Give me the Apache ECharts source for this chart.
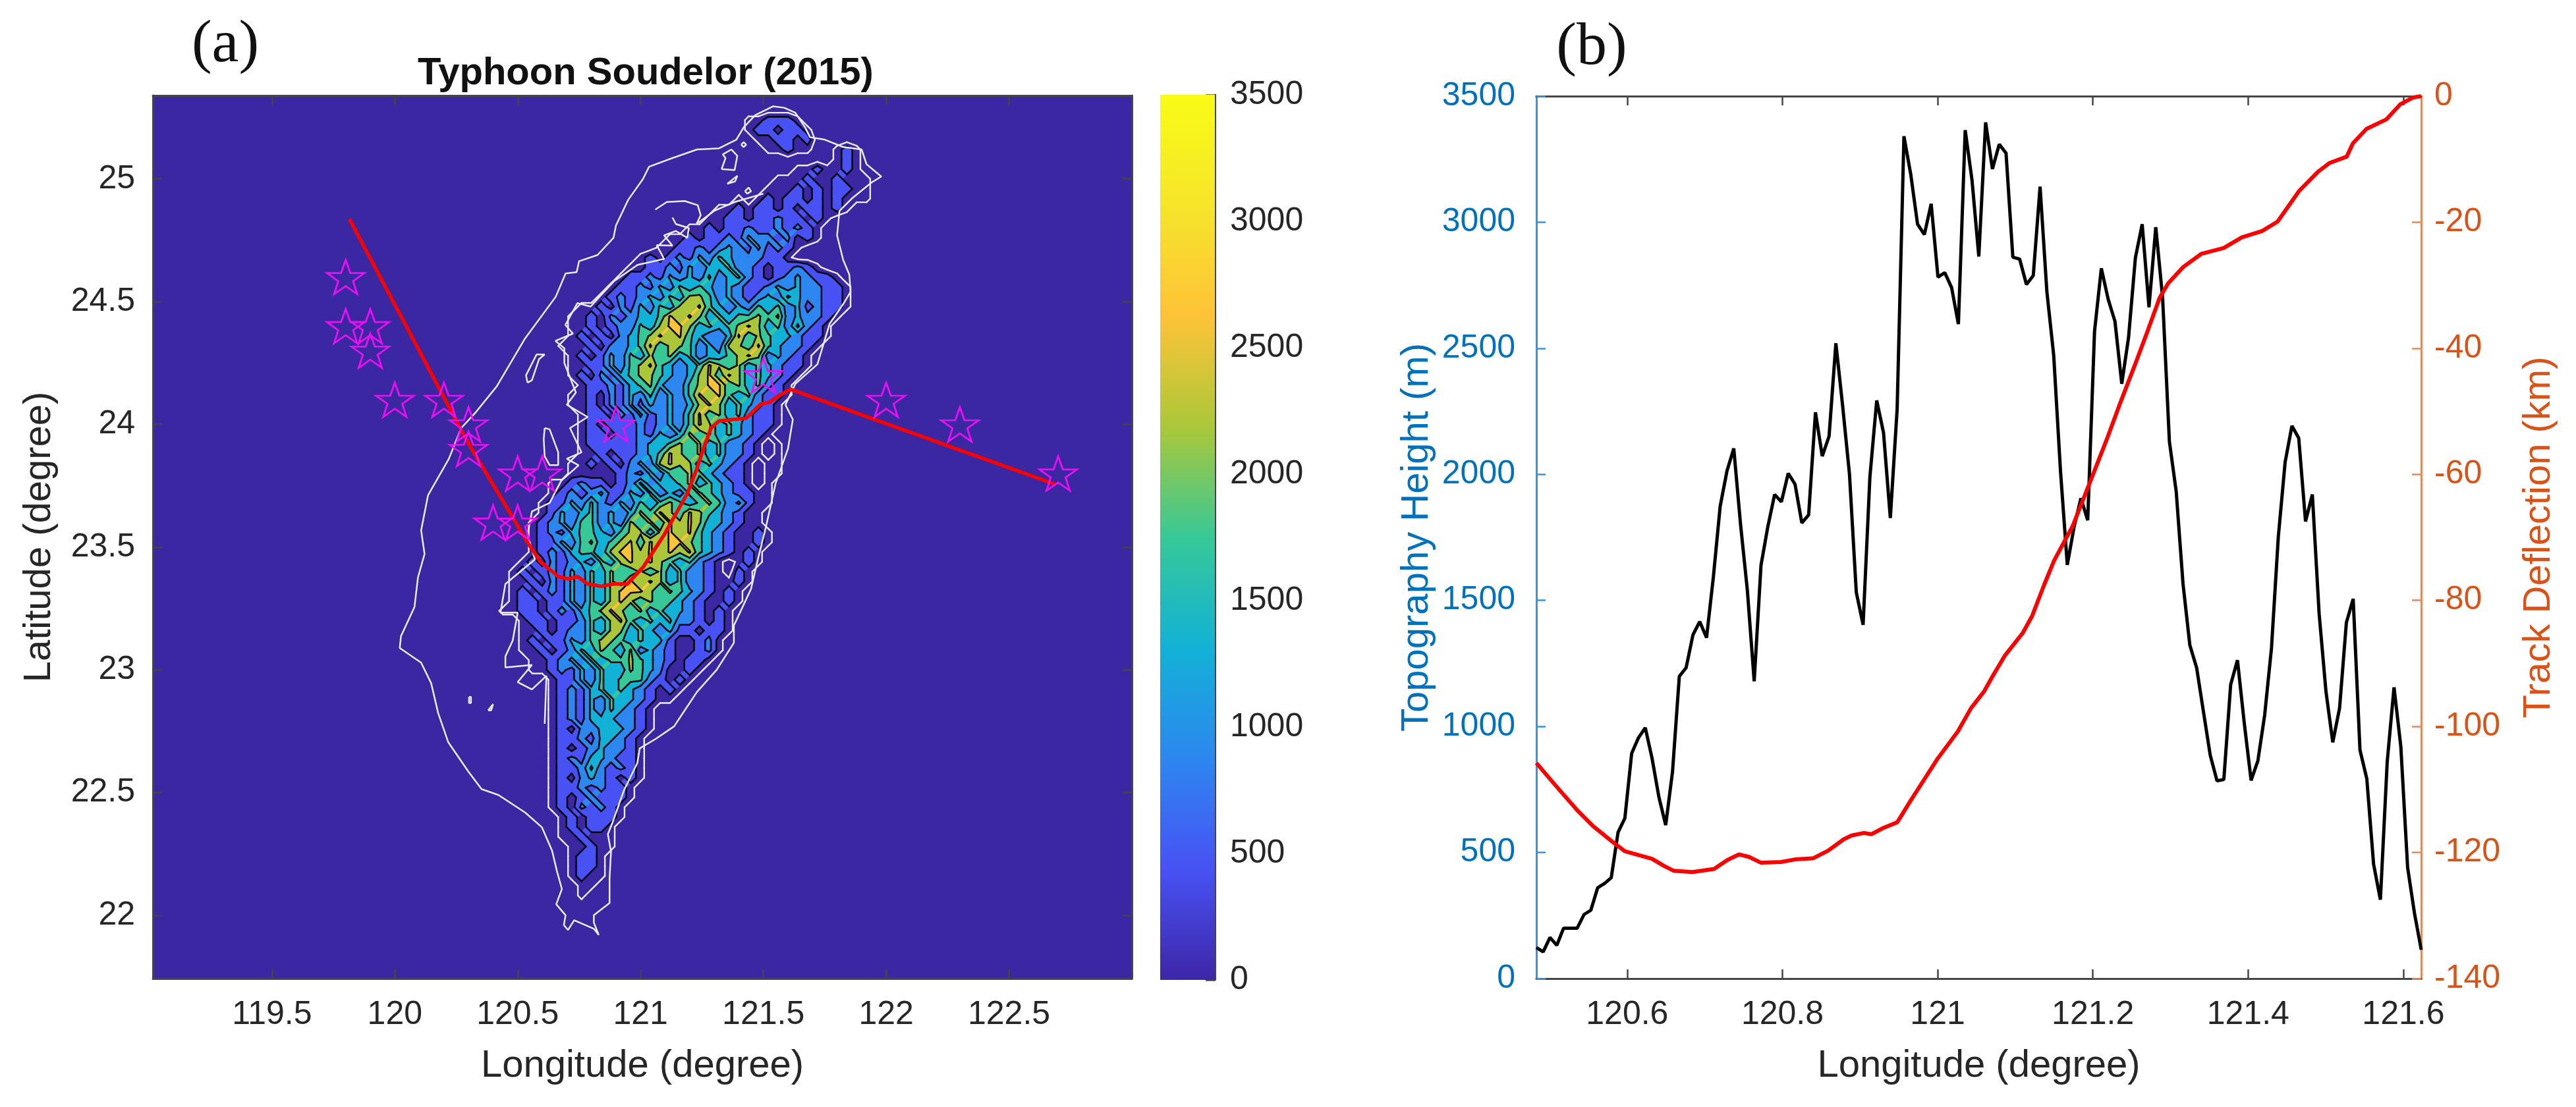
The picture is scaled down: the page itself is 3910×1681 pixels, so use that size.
<!DOCTYPE html>
<html>
<head>
<meta charset="utf-8">
<style>html,body{margin:0;padding:0;background:#fff}#c{width:3910px;height:1681px}</style>
<script src="https://cdn.jsdelivr.net/npm/echarts@6/dist/echarts.min.js"></script>
</head>
<body>
<div id="c"></div>
<script>
// ---------- panel (a) data ----------
const mapLonTicks = [119.5, 120, 120.5, 121, 121.5, 122, 122.5];
const mapLatTicks = [22, 22.5, 23, 23.5, 24, 24.5, 25];
const bandValues = {'.': -100, '0': 220, '1': 700, '2': 1000, '3': 1420, '4': 1850, '5': 2270, '6': 2690, '7': 3281};
const contourLevels = [437.5, 875, 1312.5, 1750, 2187.5, 2625, 3062.5];
const contourColors = ['#4852f4', '#2d87f0', '#12b1d6', '#37c897', '#abc739', '#fec338', '#f5e52a'];
const terrainLon0 = 120.40, terrainLat0 = 25.28, terrainStep = 0.04, terrainCols = 41;
// one string per latitude row (25.28 down to 21.92): "first column|height band of each cell"
const terrainRows = [
"",
"26|001110",
"26|0110110",
"27|001101",
"28|00100..010",
"35|010",
"31|0010010",
"29|0001001000",
"28|00010101100",
"25|0.010110101000",
"23|00101101011010",
"22|0011011211010",
"20|00101121121210",
"18|0010112132212010",
"17|001121232131210",
"15|0101213243222110",
"14|00112132334221011210",
"13|01121323242342101232110",
"12|0112132434323211232322110",
"11|01212324355423212324322110",
"9|0010213243556432324342312110",
"8|0010212334656534344545232210",
"8|001012243566534345653424210",
"8|010102345656432236454332110",
"7|000102234645542325546432210",
"8|0101324354534233456523210",
"8|0011324564323465453432110",
"8|010213455432356465343210",
"9|0112134532245664534210",
"8|00102132423246564342110",
"8|0010213132323565343210",
"9|011021312324645342110",
"9|010111212324653432110",
"9|01101121323545343210",
"9|0111112334545342210.0",
"9|0010112346545342210.0",
"8|0010102325655343210.00",
"8|0000012132445432110.00",
"6|001211012423345343210.0",
"6|01212311324232454321100",
"5|011324213243454345423100",
"5|01323423235465465432100",
"4|012324423254546565332100",
"4|0121344324553565643210010",
"4|0113245345646566543210010",
"4|012134435665656564321010",
"3|010212324356565434210.010",
"2|0101213243544545342210.10",
"2|0010213243546565342210010",
"2|010121324356665454321010",
"2|011011324356545443210010",
"1|001101213456545343321010",
"3|0110112435643434221010",
"3|0010122435534323110110",
"3|010113245543433100120",
"3|001012435435232100120",
"4|0012324344543210110",
"4|001213243354320010",
"6|011324344421010",
"6|01213434321010",
"6|0121324332100",
"6|01213243210",
"6|01213332210",
"6|01022333210",
"6|0112133210",
"6|0101232210",
"6|0121332110",
"6|0112421210",
"6|0102321010",
"6|011212110",
"6|010121110",
"6|01021210",
"7|0101110",
"7|010110",
"7|001000",
"8|00100",
"8|0110",
"8|0110",
"8|0100",
"9|00",
"9|0",
"", "", "", ""
];
const coastLine = [
[121.585,25.29],[121.54,25.296],[121.467,25.26],[121.42,25.21],[121.39,25.16],[121.32,25.125],[121.23,25.12],
[121.13,25.085],[121.035,25.05],[121.01,25.0],[120.95,24.915],[120.90,24.81],[120.89,24.76],[120.825,24.69],
[120.75,24.665],[120.74,24.62],[120.695,24.615],[120.655,24.52],[120.53,24.35],[120.415,24.155],[120.33,24.05],
[120.27,23.985],[120.22,23.86],[120.135,23.711],[120.107,23.568],[120.121,23.472],[120.094,23.376],[120.08,23.256],
[120.025,23.137],[120.02,23.089],[120.107,23.029],[120.148,22.945],[120.176,22.825],[120.217,22.706],[120.299,22.586],
[120.353,22.514],[120.422,22.49],[120.531,22.418],[120.599,22.358],[120.64,22.263],[120.66,22.179],[120.68,22.107],
[120.657,22.045],[120.695,22.0],[120.688,21.96],[120.705,21.94],[120.73,21.98],[120.81,21.945],[120.83,21.92],
[120.81,21.97],[120.81,22.0],[120.874,22.05],[120.874,22.15],[120.88,22.26],[120.867,22.33],[120.885,22.375],
[120.933,22.51],[120.987,22.62],[120.997,22.68],[121.064,22.72],[121.137,22.77],[121.17,22.82],[121.23,22.91],
[121.31,23.0],[121.38,23.11],[121.38,23.18],[121.45,23.33],[121.48,23.46],[121.51,23.58],[121.55,23.76],[121.6,23.9],
[121.62,24.02],[121.59,24.08],[121.63,24.165],[121.72,24.245],[121.77,24.41],[121.825,24.49],[121.855,24.54],
[121.85,24.61],[121.825,24.67],[121.80,24.77],[121.81,24.87],[121.86,24.92],[121.94,24.985],[121.98,25.01],
[121.92,25.06],[121.90,25.12],[121.825,25.13],[121.75,25.16],[121.69,25.17],[121.67,25.21],[121.63,25.27],[121.585,25.29]
];
const taoyuanLine = [[121.06,24.875],[121.107,24.906],[121.18,24.91],[121.233,24.893],[121.245,24.852],[121.228,24.816],[121.3,24.87],[121.383,24.906],[121.5,24.94]];
const westFootLine = [
[121.13,24.843],[121.144,24.816],[121.197,24.8],[121.19,24.76],[121.144,24.788],[121.096,24.77],[121.13,24.728],[121.066,24.73],
[121.096,24.674],[120.988,24.65],[120.893,24.584],[120.833,24.52],[120.797,24.48],[120.743,24.494],[120.694,24.405],[120.725,24.37],
[120.654,24.34],[120.69,24.31],[120.69,24.25],[120.737,24.13],[120.70,24.08],[120.785,24.03],[120.713,23.985],[120.76,23.886],
[120.70,23.86],[120.748,23.833],[120.677,23.77],[120.63,23.68],[120.558,23.645],[120.54,23.55],[120.57,23.45],[120.45,23.35],
[120.43,23.233],[120.5,23.233],[120.48,23.12],[120.45,23.055],[120.45,23.01],[120.558,23.02],[120.5,22.95],[120.558,22.92],
[120.617,22.975],[120.61,22.78]
];
const lakeNorth = [[120.54,24.17],[120.534,24.2],[120.577,24.285],[120.61,24.285],[120.587,24.266],[120.558,24.18],[120.54,24.17]];
const lakeMiddle = [[120.61,23.985],[120.63,23.98],[120.665,23.886],[120.665,23.834],[120.63,23.834],[120.61,23.87],[120.606,23.94],[120.61,23.985]];
const taipeiBlob = [[121.33,25.04],[121.346,25.085],[121.335,25.10],[121.37,25.12],[121.394,25.094],[121.383,25.036],[121.33,25.04]];
const isletA = [[121.353,24.98],[121.394,25.013],[121.385,24.99],[121.353,24.98]];
const isletB = [[121.41,25.14],[121.42,25.15],[121.43,25.14],[121.42,25.13],[121.41,25.14]];
const isletC = [[121.425,24.95],[121.44,24.965],[121.45,24.95],[121.435,24.94],[121.425,24.95]];
const isletD = [[120.302,22.89],[120.31,22.89],[120.31,22.865],[120.302,22.865],[120.302,22.89]];
const isletE = [[120.38,22.835],[120.40,22.86],[120.392,22.835],[120.38,22.835]];
const trackLine = [
[119.815,24.837],[120.295,23.93],[120.546,23.51],[120.593,23.44],[120.665,23.38],[120.708,23.37],[120.743,23.38],[120.785,23.35],
[120.84,23.34],[120.888,23.35],[120.947,23.35],[121.012,23.42],[121.096,23.55],[121.155,23.655],[121.19,23.717],[121.228,23.816],
[121.263,23.92],[121.287,23.985],[121.32,24.014],[121.43,24.025],[121.49,24.083],[121.525,24.09],[121.567,24.119],[121.61,24.143],[122.69,23.755]
];
const starPoints = [
[119.8,24.6],[119.8,24.4],[119.9,24.4],[119.9,24.3],[120,24.1],[120.2,24.1],[120.3,24],[120.3,23.9],[120.5,23.8],
[120.6,23.8],[120.4,23.6],[120.5,23.6],[120.9,24],[121.5,24.2],[122,24.1],[122.3,24],[122.7,23.8]
];
const parulaStops = [[0,'#3e26a8'],[0.125,'#4852f4'],[0.25,'#2d87f0'],[0.375,'#12b1d6'],[0.5,'#37c897'],[0.625,'#abc739'],[0.75,'#fec338'],[0.875,'#f5e52a'],[1,'#f9fb15']];

// ---------- panel (b) data ----------
const profileLonTicks = [120.6, 120.8, 121, 121.2, 121.4, 121.6];
const topoLonStart = 120.483, topoLonStep = 0.00877;
const topoHeight = [
123,106,163,132,200,200,200,254,271,360,377,400,580,636,893,955,995,873,720,609,
820,1199,1233,1363,1416,1352,1592,1873,2013,2103,1800,1539,1179,1639,1792,1920,1891,2004,1961,1807,
1839,2246,2072,2151,2520,2270,2000,1532,1403,1990,2293,2165,1827,2258,3341,3190,2992,2951,3073,2782,
2800,2741,2596,3365,3167,2864,3396,3211,3309,3274,2861,2854,2753,2788,3141,2724,2473,2013,1641,1792,
1905,1818,2567,2817,2695,2607,2359,2543,2858,2992,2663,2980,2701,2130,1932,1566,1323,1233,1059,886,
784,790,1166,1263,1013,786,864,1046,1312,1752,2048,2192,2144,1813,1920,1446,1139,937,1073,1412,
1506,906,793,453,313,860,1155,920,440,260,114
];
const deflection = [
[120.483,-105.8],[120.508,-109.4],[120.5365,-113.4],[120.556,-115.8],[120.58,-118.2],[120.597,-119.8],[120.6145,-120.4],[120.632,-121.0],
[120.647,-122.1],[120.66,-122.9],[120.684,-123.1],[120.712,-122.6],[120.729,-121.2],[120.744,-120.3],[120.757,-120.7],[120.772,-121.6],
[120.798,-121.5],[120.816,-121.1],[120.84,-120.9],[120.859,-119.7],[120.879,-117.9],[120.889,-117.3],[120.905,-116.9],[120.9145,-117.1],
[120.93,-116.1],[120.948,-115.2],[120.965,-111.8],[121.0,-105.1],[121.026,-100.8],[121.043,-97.1],[121.06,-94.4],[121.071,-92.0],
[121.0864,-88.8],[121.11,-85.1],[121.122,-82.4],[121.137,-77.6],[121.15,-73.7],[121.174,-68.2],[121.1974,-60.9],[121.219,-54.1],
[121.2364,-48.3],[121.254,-42.7],[121.271,-37.1],[121.286,-32.0],[121.297,-29.7],[121.3165,-27.1],[121.34,-25.0],[121.3685,-24.1],
[121.392,-22.4],[121.418,-21.4],[121.438,-19.9],[121.466,-15.0],[121.49,-12.0],[121.505,-10.6],[121.527,-9.6],[121.535,-7.5],
[121.5525,-5.2],[121.578,-3.7],[121.596,-1.3],[121.613,-0.2],[121.623,0]
];

// ---------- contour extraction from the terrain table ----------
const terrain = terrainRows.map(function (row) {
  const cells = new Array(terrainCols).fill(bandValues['.']);
  if (!row) return cells;
  const parts = row.split('|');
  const first = +parts[0];
  for (let i = 0; i < parts[1].length; i++) cells[first + i] = bandValues[parts[1][i]];
  return cells;
});
function corner(r, c) { return [terrainLon0 + c * terrainStep, terrainLat0 - r * terrainStep, terrain[r][c]]; }
function cross(a, b, L) {
  const t = (L - a[2]) / (b[2] - a[2]);
  return [a[0] + t * (b[0] - a[0]), a[1] + t * (b[1] - a[1])];
}
const fillPieces = [], blackSegs = [], whiteSegs = [];
function scanLevel(L, fillColor, segs) {
  for (let r = 0; r < terrain.length - 1; r++) {
    for (let c = 0; c < terrainCols - 1; c++) {
      const q = [corner(r, c), corner(r, c + 1), corner(r + 1, c + 1), corner(r + 1, c)];
      const poly = [], crossings = [];
      for (let i = 0; i < 4; i++) {
        const a = q[i], b = q[(i + 1) % 4];
        if (a[2] >= L) poly.push([a[0], a[1]]);
        if ((a[2] >= L) !== (b[2] >= L)) {
          const p = cross(a, b, L);
          poly.push(p);
          crossings.push(p);
        }
      }
      if (fillColor && poly.length >= 3) fillPieces.push({ color: fillColor, pts: poly });
      for (let k = 0; k + 1 < crossings.length; k += 2) segs.push([crossings[k], crossings[k + 1]]);
    }
  }
}
contourLevels.forEach(function (L, i) { scanLevel(L, contourColors[i], blackSegs); });
scanLevel(100, null, whiteSegs);

function segmentSeries(segs, color, width, z) {
  return {
    type: 'custom', coordinateSystem: 'cartesian2d', xAxisIndex: 0, yAxisIndex: 0, z: z, silent: true, clip: true,
    progressive: 0, animation: false,
    data: segs.map(function (_, i) { return [i]; }),
    renderItem: function (params, api) {
      const s = segs[params.dataIndex];
      const a = api.coord(s[0]), b = api.coord(s[1]);
      return { type: 'line', shape: { x1: a[0], y1: a[1], x2: b[0], y2: b[1] }, style: { stroke: color, lineWidth: width, lineCap: 'round' } };
    }
  };
}
function whiteLine(pts) {
  return { type: 'line', xAxisIndex: 0, yAxisIndex: 0, data: pts, showSymbol: false, silent: true, z: 5,
    lineStyle: { color: '#ececf6', width: 2.5 } };
}

const inkColor = '#262626', frameColor = '#454545', blueAxis = '#0072BD', orangeAxis = '#D95319';
const tickFont = { fontFamily: 'Liberation Sans', fontSize: 50, color: inkColor };
const nameFont = { fontFamily: 'Liberation Sans', fontSize: 58, color: inkColor };
const starPath = 'path://M50 0 L61.8 34.5 L97.6 34.5 L68.8 55.9 L79.4 90.5 L50 69 L20.6 90.5 L31.2 55.9 L2.4 34.5 L38.2 34.5 Z';

function fmt(v) { return String(v); }
function boxX(grid, min, max, pos, ticks, extra) {
  return Object.assign({
    type: 'value', gridIndex: grid, position: pos, min: min, max: max, splitLine: { show: false },
    axisLine: { show: true, onZero: false, lineStyle: { color: frameColor, width: 3 } },
    axisTick: { show: true, inside: true, length: 14, customValues: ticks, lineStyle: { color: frameColor, width: 2.5 } },
    axisLabel: { show: false }
  }, extra || {});
}

const option = {
  animation: false,
  backgroundColor: '#ffffff',
  title: [
    { text: 'Typhoon Soudelor (2015)', left: 975, top: 78, textAlign: 'center',
      textStyle: { fontFamily: 'Liberation Sans', fontSize: 58, fontWeight: 'bold', color: '#111' } },
    { text: '(a)', left: 337, top: 18, textAlign: 'center',
      textStyle: { fontFamily: 'Liberation Serif', fontSize: 92, fontWeight: 'normal', color: '#111' } },
    { text: '(b)', left: 2411, top: 22, textAlign: 'center',
      textStyle: { fontFamily: 'Liberation Serif', fontSize: 92, fontWeight: 'normal', color: '#111' } }
  ],
  grid: [
    { left: 232, top: 145, width: 1486, height: 1341, show: true, backgroundColor: '#3b27a2', borderWidth: 0 },
    { left: 2332, top: 146, width: 1343, height: 1340 },
    { left: 1761, top: 144, width: 83, height: 1344 }
  ],
  xAxis: [
    boxX(0, 119.015, 123, 'bottom', mapLonTicks, {
      name: 'Longitude (degree)', nameLocation: 'middle', nameGap: 104, nameTextStyle: nameFont,
      axisLabel: Object.assign({ show: true, margin: 30, customValues: mapLonTicks, formatter: fmt }, tickFont)
    }),
    boxX(0, 119.015, 123, 'top', mapLonTicks),
    boxX(1, 120.483, 121.623, 'bottom', profileLonTicks, {
      name: 'Longitude (degree)', nameLocation: 'middle', nameGap: 104, nameTextStyle: nameFont,
      axisLabel: Object.assign({ show: true, margin: 30, customValues: profileLonTicks, formatter: fmt }, tickFont)
    }),
    boxX(1, 120.483, 121.623, 'top', profileLonTicks),
    { type: 'value', gridIndex: 2, min: 0, max: 1, show: false }
  ],
  yAxis: [
    boxX(0, 21.742, 25.34, 'left', mapLatTicks, {
      name: 'Latitude (degree)', nameLocation: 'middle', nameGap: 143, nameRotate: 90, nameTextStyle: nameFont,
      axisLabel: Object.assign({ show: true, margin: 27, customValues: mapLatTicks, formatter: fmt }, tickFont)
    }),
    boxX(0, 21.742, 25.34, 'right', mapLatTicks),
    {
      type: 'value', gridIndex: 1, position: 'left', min: 0, max: 3500, interval: 500, splitLine: { show: false },
      name: 'Topography Height (m)', nameLocation: 'middle', nameGap: 152, nameRotate: 90,
      nameTextStyle: Object.assign({}, nameFont, { color: blueAxis }),
      axisLine: { show: true, onZero: false, lineStyle: { color: '#3a95da', width: 3 } },
      axisTick: { show: true, inside: true, length: 14, lineStyle: { color: '#3a95da', width: 2.5 } },
      axisLabel: { show: true, margin: 32, fontFamily: 'Liberation Sans', fontSize: 50, color: blueAxis, formatter: fmt }
    },
    {
      type: 'value', gridIndex: 1, position: 'right', min: -140, max: 0, interval: 20, splitLine: { show: false },
      name: 'Track Deflection (km)', nameLocation: 'middle', nameGap: 150, nameRotate: 90,
      nameTextStyle: Object.assign({}, nameFont, { color: orangeAxis }),
      axisLine: { show: true, onZero: false, lineStyle: { color: '#e58a5e', width: 3 } },
      axisTick: { show: true, inside: true, length: 14, lineStyle: { color: '#e58a5e', width: 2.5 } },
      axisLabel: { show: true, margin: 20, fontFamily: 'Liberation Sans', fontSize: 50, color: orangeAxis, formatter: fmt }
    },
    {
      type: 'value', gridIndex: 2, position: 'right', min: 0, max: 3500, interval: 500, splitLine: { show: false },
      axisLine: { show: true, onZero: false, lineStyle: { color: frameColor, width: 3 } },
      axisTick: { show: true, inside: true, length: 14, lineStyle: { color: frameColor, width: 2.5 } },
      axisLabel: Object.assign({ show: true, margin: 23, formatter: fmt }, tickFont)
    }
  ],
  series: [
    {
      type: 'custom', coordinateSystem: 'cartesian2d', xAxisIndex: 0, yAxisIndex: 0, z: 2, silent: true, clip: true,
      progressive: 0,
      data: fillPieces.map(function (_, i) { return [i]; }),
      renderItem: function (params, api) {
        const p = fillPieces[params.dataIndex];
        return { type: 'polygon', shape: { points: p.pts.map(function (v) { return api.coord(v); }) },
          style: { fill: p.color, stroke: p.color, lineWidth: 1 } };
      }
    },
    segmentSeries(blackSegs, '#0a0a14', 2.6, 3),
    segmentSeries(whiteSegs, '#ececf6', 2.4, 4),
    whiteLine(coastLine), whiteLine(taoyuanLine), whiteLine(westFootLine),
    whiteLine(lakeNorth), whiteLine(lakeMiddle), whiteLine(taipeiBlob),
    whiteLine(isletA), whiteLine(isletB), whiteLine(isletC), whiteLine(isletD), whiteLine(isletE),
    { type: 'line', xAxisIndex: 0, yAxisIndex: 0, data: trackLine, showSymbol: false, silent: true, z: 7,
      lineStyle: { color: '#ff0000', width: 5.5 } },
    { type: 'scatter', xAxisIndex: 0, yAxisIndex: 0, data: starPoints, symbol: starPath, symbolSize: [57, 52], silent: true, z: 8,
      itemStyle: { color: 'rgba(0,0,0,0)', borderColor: '#e810f0', borderWidth: 2.8, opacity: 1 } },
    // colourbar
    {
      type: 'custom', coordinateSystem: 'cartesian2d', xAxisIndex: 4, yAxisIndex: 4, z: 1, silent: true,
      data: [[0, 3500]],
      renderItem: function (params, api) {
        const lo = api.coord([0, 0]), hi = api.coord([1, 3500]);
        return { type: 'rect', shape: { x: lo[0], y: hi[1], width: hi[0] - lo[0], height: lo[1] - hi[1] },
          style: { fill: { type: 'linear', x: 0, y: 1, x2: 0, y2: 0,
            colorStops: parulaStops.map(function (s) { return { offset: s[0], color: s[1] }; }) } } };
      }
    },
    // panel (b)
    { type: 'line', xAxisIndex: 2, yAxisIndex: 2, showSymbol: false, silent: true, z: 3,
      data: topoHeight.map(function (h, i) { return [topoLonStart + i * topoLonStep, h]; }),
      lineStyle: { color: '#000000', width: 5 } },
    { type: 'line', xAxisIndex: 2, yAxisIndex: 3, showSymbol: false, silent: true, z: 4, clip: false,
      data: deflection, lineStyle: { color: '#ff0000', width: 6 } }
  ]
};
const chart = echarts.init(document.getElementById('c'), null, { renderer: 'canvas', width: 3910, height: 1681 });
chart.setOption(option);
</script>
</body>
</html>
